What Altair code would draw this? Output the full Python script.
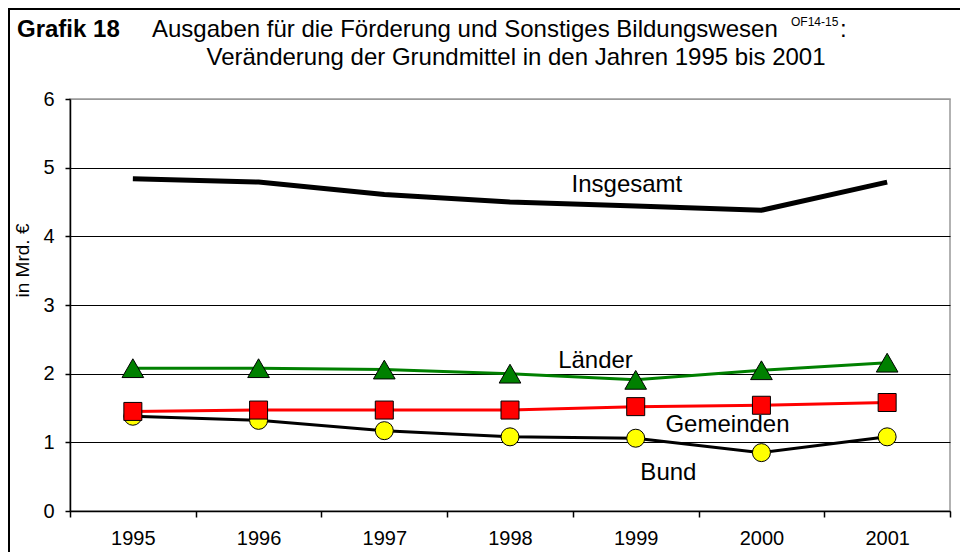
import altair as alt
import pandas as pd

# ---- data ----
years = [1995, 1996, 1997, 1998, 1999, 2000, 2001]
insgesamt = [4.84, 4.79, 4.61, 4.50, 4.44, 4.38, 4.79]
laender = [2.08, 2.08, 2.06, 2.00, 1.91, 2.05, 2.16]
gemeinden = [1.45, 1.47, 1.47, 1.47, 1.52, 1.54, 1.58]
bund = [1.38, 1.32, 1.17, 1.08, 1.06, 0.85, 1.08]

label_texts = ["Insgesamt", "Länder", "Gemeinden", "Bund"]
label_x = [1998.93, 1998.68, 1999.73, 1999.26]
label_y = [4.65, 2.08, 1.15, 0.45]

y_ticks = [0, 1, 2, 3, 4, 5, 6]

title_bold = "Grafik 18"
title_line1 = "Ausgaben für die Förderung und Sonstiges Bildungswesen"
title_sup = "OF14-15"
title_line2 = "Veränderung der Grundmittel in den Jahren 1995 bis 2001"
y_title = "in Mrd. €"

FONT = "Liberation Sans, Arial, Helvetica, sans-serif"
W, H = 880, 412

df = pd.DataFrame({
    "year": years * 4,
    "value": insgesamt + laender + gemeinden + bund,
    "series": (["Insgesamt"] * 7 + ["Länder"] * 7 + ["Gemeinden"] * 7 + ["Bund"] * 7),
})
labels = pd.DataFrame({"text": label_texts, "x": label_x, "value": label_y})

x_enc = alt.X(
    "year:O",
    scale=alt.Scale(type="band", paddingInner=0, paddingOuter=0),
    axis=alt.Axis(
        title=None, labelAngle=0, tickBand="extent", tickSize=6, tickWidth=1.5,
        tickColor="black", domainColor="black", domainWidth=1.5,
        labelFontSize=20, labelFont=FONT, labelColor="black", labelPadding=11,
        grid=False,
    ),
)
y_enc = alt.Y(
    "value:Q",
    scale=alt.Scale(domain=[0, 6], nice=False),
    axis=alt.Axis(
        values=y_ticks, format="d", title=y_title, titleAngle=270,
        titleX=-42, titleY=161, titleAlign="center", titleBaseline="alphabetic",
        titleFontSize=19, titleFontWeight="normal", titleFont=FONT, titleColor="black",
        labelFontSize=20, labelFont=FONT, labelColor="black", labelPadding=11,
        tickSize=5, tickWidth=1.5, tickColor="black",
        domainColor="black", domainWidth=1.5,
        grid=True, gridWidth=1,
        gridColor=alt.condition("datum.value === 6", alt.value("#999999"), alt.value("black")),
    ),
)

base = alt.Chart(df).encode(x=x_enc, y=y_enc)


def series(name):
    return base.transform_filter(alt.datum.series == name)


ins_line = series("Insgesamt").mark_line(color="black", strokeWidth=5, strokeCap="butt")
bund_line = series("Bund").mark_line(color="black", strokeWidth=3)
bund_pts = series("Bund").mark_point(shape="circle", filled=True, fill="#ffff00", stroke="black",
                                     strokeWidth=1, size=324, opacity=1)
gem_line = series("Gemeinden").mark_line(color="#ff0000", strokeWidth=3)
gem_pts = series("Gemeinden").mark_point(shape="square", filled=True, fill="#ff0000", stroke="black",
                                         strokeWidth=1, size=324, opacity=1)
lae_line = series("Länder").mark_line(color="#008000", strokeWidth=3)
lae_pts = series("Länder").mark_point(shape="triangle-up", filled=True, fill="#008000", stroke="black",
                                      strokeWidth=1, size=470, opacity=1)

lines = alt.layer(ins_line, bund_line, bund_pts, gem_line, gem_pts, lae_line, lae_pts)

text_layer = alt.Chart(labels).mark_text(
    font=FONT, fontSize=24, color="black", align="center", baseline="alphabetic"
).encode(
    x=alt.X("x:Q", scale=alt.Scale(domain=[1994.5, 2001.5], nice=False, zero=False), axis=None),
    y=alt.Y("value:Q", scale=alt.Scale(domain=[0, 6], nice=False)),
    text="text:N",
)

one = pd.DataFrame({"t": [""]})


def title_text(txt, x, y, size, weight="normal", align="left"):
    d = pd.DataFrame({"t": [txt]})
    return alt.Chart(d).mark_text(
        font=FONT, fontSize=size, fontWeight=weight, color="black",
        align=align, baseline="alphabetic",
    ).encode(x=alt.value(x), y=alt.value(y), text="t:N")


t_bold = title_text(title_bold, -53, -62, 24, "bold")
t_l1 = title_text(title_line1, 82, -62, 24)
t_sup = title_text(title_sup, 721, -73, 12)
t_colon = title_text(":", 770, -62, 24)
t_l2 = title_text(title_line2, 446, -34, 24, align="center")

frame_left = alt.Chart(one).mark_rule(color="black", strokeWidth=2).encode(
    x=alt.value(-61), y=alt.value(-90), y2=alt.value(460)
)
frame_top = alt.Chart(one).mark_rule(color="black", strokeWidth=2).encode(
    x=alt.value(-62), x2=alt.value(900), y=alt.value(-90)
)

chart = alt.layer(
    lines, text_layer, t_bold, t_l1, t_sup, t_colon, t_l2, frame_left, frame_top,
).resolve_scale(x="independent").properties(
    width=W, height=H,
    autosize=alt.AutoSizeParams(type="none"),
    padding={"left": 62, "top": 91, "right": 10, "bottom": 41},
    background="white",
).configure_view(
    stroke="#999999", strokeWidth=1.5
)

chart.save("out.html", embed_options={"renderer": "svg", "actions": False})
